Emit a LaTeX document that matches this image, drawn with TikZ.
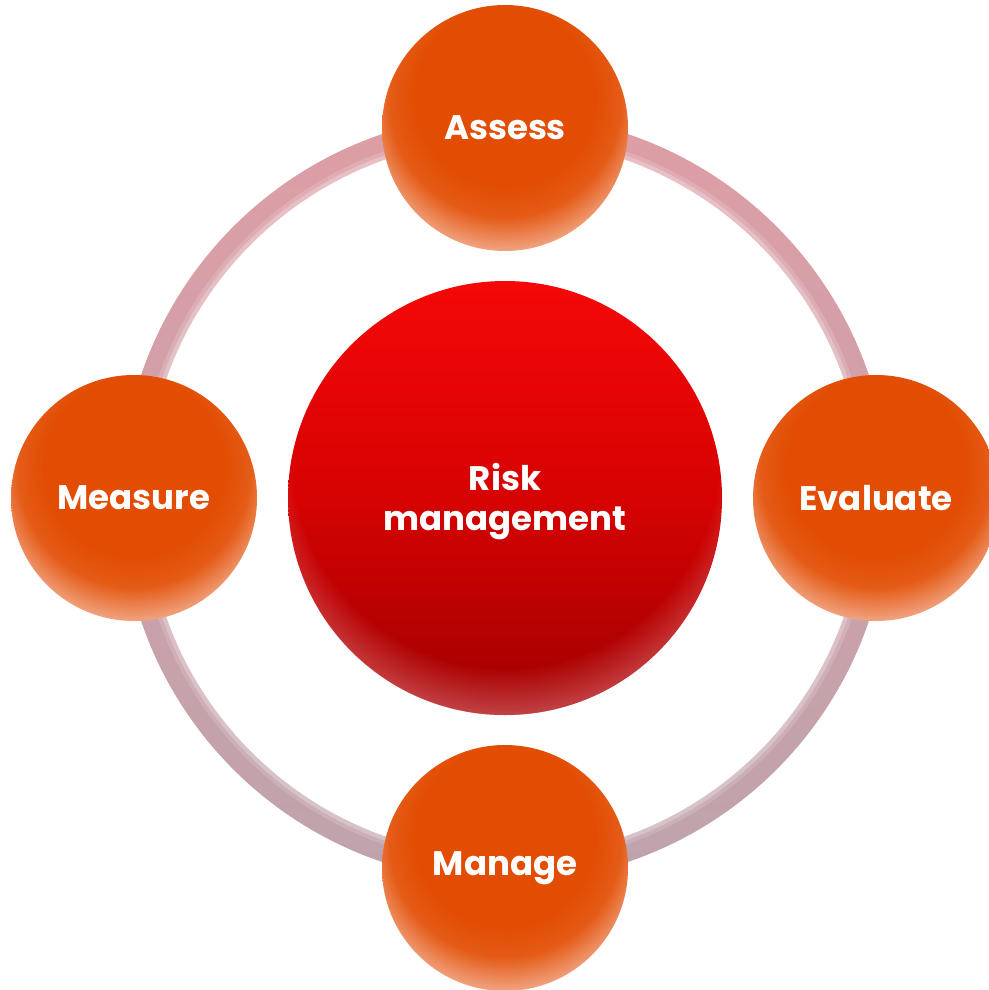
\documentclass[tikz,border=0pt]{standalone}
\usepackage{fontspec}
\setmainfont{Poppins}
\usetikzlibrary{fadings}
\definecolor{orC}{RGB}{226,77,3}
\definecolor{orL}{RGB}{241,168,135}
\definecolor{redT}{RGB}{245,8,8}
\definecolor{redM}{RGB}{214,2,2}
\definecolor{redB}{RGB}{160,0,0}
\definecolor{rimC}{RGB}{222,120,125}
\definecolor{ringT}{RGB}{222,158,165}
\definecolor{ringB}{RGB}{190,163,172}
\pgfdeclareradialshading{orb}{\pgfpoint{0bp}{10bp}}{color(0bp)=(orC); color(18.5bp)=(orC); color(23.5bp)=(orC!92!white); color(29.5bp)=(orL); color(50bp)=(orL)}
\pgfdeclareradialshading{rimshade}{\pgfpoint{0bp}{10bp}}{color(0bp)=(black); color(24.5bp)=(black); color(29.5bp)=(white!60!black); color(50bp)=(white!60!black)}
\pgfdeclarefading{rimfade}{\pgfuseshading{rimshade}}
\tikzset{
  lbl/.style={text=white, font=\bfseries\fontsize{34}{40}\selectfont, align=center},
  orbnode/.style={circle, minimum size=246pt, inner sep=0pt, shading=orb, lbl},
  corenode/.style={circle, minimum size=434pt, inner sep=0pt, top color=redT, bottom color=redB, middle color=redM},
}
\begin{document}
\begin{tikzpicture}[x=1pt,y=-1pt]
\useasboundingbox (0,0) rectangle (988,990);
\coordinate (C) at (505,498);
% ring
\begin{scope}[even odd rule]
  \clip (C) circle (384pt) (C) circle (359pt);
  \shade[top color=ringT, bottom color=ringB] (C) ++(-390,-390) rectangle ++(780,780);
  \draw[white, opacity=.35, line width=6pt] (C) circle (360pt);
  \draw[white, opacity=.15, line width=4pt] (C) circle (365pt);
\end{scope}
% core
\node[corenode] (risk) at (C) {};
\fill[rimC, path fading=rimfade] (risk.center) circle (217pt);
\node[lbl] (risklabel) at ([yshift=-4pt]risk.center) {Risk\\management};
% orbs
\node[orbnode] (assess) at (505,128) {Assess};
\node[orbnode] (evaluate) at (876,498) {Evaluate};
\node[orbnode] (manage) at (505,868) {Manage};
\node[orbnode] (measure) at (134,498) {Measure};
\end{tikzpicture}
\end{document}
